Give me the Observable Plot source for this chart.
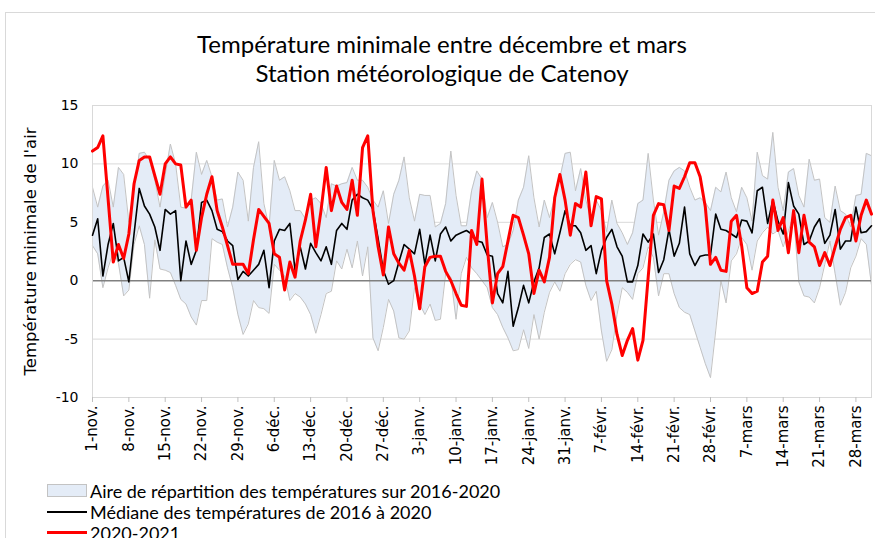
<!DOCTYPE html>
<html><head><meta charset="utf-8">
<script src="https://cdn.jsdelivr.net/npm/d3@7"></script>
<script src="https://cdn.jsdelivr.net/npm/@observablehq/plot@0.6"></script>
<style>
html,body{margin:0;padding:0;background:#fff;overflow:hidden;width:875px;height:538px;}
#frame{position:absolute;left:5px;top:12px;width:900px;height:600px;border:1px solid #d9d9d9;box-sizing:border-box;}
#title{position:absolute;left:0;width:884px;top:29px;text-align:center;font-family:Lato,"Open Sans",sans-serif;font-size:24px;line-height:29px;color:#000;}
#chart{position:absolute;left:0;top:0;}
#legend{position:absolute;left:47px;top:480px;font-family:Lato,"Open Sans",sans-serif;font-size:18px;color:#000;}
.row{height:21px;display:flex;align-items:center;white-space:nowrap;}
.sw{width:40px;margin-right:3px;box-sizing:border-box;}
</style>
</head><body>
<div id="frame"></div>
<div id="title">Température minimale entre décembre et mars<br>Station météorologique de Catenoy</div>
<div id="chart"></div>
<div id="legend"></div>
<script>
// Day index 0 = 1 Nov 2020 ... 150 = 31 Mar 2021
const tickDays = [0,7,14,21,28,35,42,49,56,63,70,77,84,91,98,105,112,119,126,133,140,147];
const tickLabels = ["1-nov.","8-nov.","15-nov.","22-nov.","29-nov.","6-déc.","13-déc.","20-déc.","27-déc.","3-janv.","10-janv.","17-janv.","24-janv.","31-janv.","7-févr.","14-févr.","21-févr.","28-févr.","7-mars","14-mars","21-mars","28-mars"];
const yTicks = [-10,-5,0,5,10,15];

// 2020-2021 minimum temperature
const red2021 = [
 11.1,11.4,12.4,7.0,1.6,3.1,1.9,4.0,8.3,10.3,10.6,10.6,9.0,7.4,10.0,10.6,10.0,9.9,6.3,6.9,2.6,5.4,7.4,8.9,6.0,
 4.6,3.0,1.4,1.4,1.4,0.6,3.5,6.1,5.5,4.9,2.3,2.0,-0.8,1.6,0.3,3.4,5.2,7.4,2.9,6.0,9.7,6.0,8.1,6.7,6.1,
 8.6,5.6,11.4,12.4,6.0,2.9,0.5,4.6,2.3,1.5,0.9,2.6,0.4,-2.4,1.2,2.0,2.1,2.1,0.8,0.0,-1.1,-2.1,-2.2,4.3,3.1,
 8.7,3.0,-1.9,0.6,1.2,3.4,5.6,5.4,3.9,2.3,-1.1,0.9,-0.1,2.0,7.1,9.1,6.9,3.9,6.6,6.3,9.3,4.7,7.2,7.0,0.0,
 -2.0,-4.6,-6.4,-5.1,-4.1,-6.8,-5.1,0.3,5.6,6.6,6.5,4.3,8.1,7.9,8.9,10.1,10.1,8.9,6.3,1.4,2.0,0.9,0.8,5.1,5.6,
 3.0,-0.6,-1.1,-0.9,1.6,2.1,6.9,4.3,5.4,2.4,6.0,2.4,5.6,3.3,2.9,1.3,2.4,1.3,2.9,4.4,5.4,5.6,3.4,5.6,6.9,5.7
];
// Median 2016-2020
const median = [
 3.9,5.3,0.4,3.1,4.9,1.7,2.0,-0.1,4.0,7.9,6.4,5.7,4.6,2.6,6.1,5.7,6.0,0.0,3.4,1.4,2.6,6.7,6.9,6.0,4.4,
 4.2,3.4,3.0,0.1,0.8,0.4,0.9,1.4,2.6,-0.6,3.4,4.4,4.3,4.9,0.9,2.9,1.0,3.2,2.4,1.7,2.9,1.4,4.3,4.9,4.4,
 6.9,7.4,7.1,6.9,6.1,3.6,0.9,-0.3,0.0,1.6,3.1,2.7,2.3,4.4,1.4,3.9,1.7,4.0,4.6,3.4,3.9,4.1,4.3,4.0,3.4,
 3.3,2.2,2.1,-1.1,-1.9,0.8,-3.9,-2.3,-0.4,-1.9,-0.1,1.1,3.7,4.0,2.3,4.1,6.0,4.7,4.7,4.1,2.6,3.0,0.6,2.6,3.7,
 4.4,2.9,2.1,-0.1,-0.1,1.3,4.0,3.3,4.0,0.7,1.8,4.4,2.1,3.2,6.3,2.3,1.3,2.1,2.2,2.2,5.7,4.4,4.3,4.0,3.7,
 5.2,5.1,4.1,7.7,8.0,4.9,6.9,5.1,4.0,8.4,6.4,5.7,3.1,3.4,4.6,5.3,3.2,3.9,6.1,2.7,3.4,3.4,6.3,4.1,4.2,4.7
];
// Range 2016-2020: upper and lower edges
const upper = [
 8.0,6.3,8.1,8.6,6.3,9.7,9.1,5.0,7.9,10.9,11.0,10.3,8.6,6.3,9.1,11.7,10.0,6.3,6.2,6.9,11.0,9.1,10.3,8.9,6.9,
 7.0,4.6,6.3,9.3,8.6,5.1,9.7,11.9,6.6,4.6,10.3,8.6,8.9,7.7,6.0,6.0,5.3,6.9,7.1,6.6,5.4,8.3,8.1,8.3,8.4,
 9.7,8.6,8.6,8.0,6.9,6.3,7.7,4.9,7.4,8.6,10.6,7.1,5.1,7.4,7.3,7.3,4.6,4.9,6.6,11.1,7.3,4.7,4.7,7.7,9.4,
 8.7,5.4,6.7,5.0,2.9,3.1,4.3,6.9,8.0,10.7,7.1,4.6,6.9,5.4,7.1,8.8,10.9,11.0,7.7,9.6,6.9,5.1,6.9,6.0,4.2,
 6.9,4.9,4.1,3.1,4.1,6.6,6.9,10.9,6.9,3.9,5.9,8.6,9.4,9.7,9.4,8.0,6.9,7.1,6.7,6.0,8.0,7.6,9.3,7.1,5.9,
 8.0,7.1,5.1,11.0,9.0,8.7,12.7,8.0,6.0,9.3,9.6,7.3,6.3,10.4,8.6,8.7,5.4,5.0,8.1,6.0,5.7,4.6,7.3,7.4,10.9,10.7
];
const lower = [
 3.0,2.3,-0.6,1.1,2.5,1.5,-1.3,-0.8,3.1,4.7,3.1,-1.5,3.5,1.0,0.9,0.7,-0.4,-1.6,-2.0,-3.1,-3.8,-1.7,-1.7,3.6,3.3,
 3.1,1.1,-0.6,-2.9,-4.6,-3.7,-1.7,-2.3,-2.4,-2.8,1.4,0.9,0.4,-1.7,-1.1,-1.4,-2.0,-2.9,-4.5,-2.9,-1.1,-0.9,1.7,1.0,2.7,
 1.1,3.4,0.4,2.9,-4.9,-6.0,-4.0,-1.6,-2.6,-4.9,-5.0,-4.3,-0.6,-2.0,-2.9,-2.0,-3.4,-3.3,0.6,0.3,-3.3,0.6,2.0,1.1,0.6,
 0.0,-0.6,-2.3,-2.9,-4.0,-4.9,-6.0,-5.9,-4.2,-5.8,-2.9,-5.0,-2.7,-1.0,-0.1,-0.9,0.6,1.4,1.8,1.6,-0.4,-1.7,-0.9,-4.3,-6.9,
 -5.9,-2.9,-0.6,-1.0,-1.6,0.6,1.1,2.9,2.0,-1.3,0.6,0.6,-1.1,-2.3,-2.7,-2.9,-4.3,-5.7,-7.1,-8.3,-4.3,0.0,-1.9,1.7,2.3,
 3.7,3.1,0.9,3.4,4.1,4.6,4.0,4.3,2.9,4.3,5.6,-0.1,-1.3,-1.4,-1.9,-0.6,1.4,3.4,0.6,-2.1,-1.0,1.1,2.1,3.6,3.1,-0.4
];

const legendItems = [
  {label:"Aire de répartition des températures sur 2016-2020", kind:"area"},
  {label:"Médiane des températures de 2016 à 2020", kind:"median"},
  {label:"2020-2021", kind:"red"}
];

const data = red2021.map((v,i)=>({day:i, red:v, med:median[i], lo:lower[i], hi:upper[i]}));

const chart = Plot.plot({
  width: 875, height: 480,
  marginTop: 105, marginLeft: 92, marginRight: 4, marginBottom: 83,
  style: {fontFamily: "DejaVu Sans, Verdana, sans-serif", fontSize: "14px", color: "#000", background: "transparent", overflow: "visible"},
  x: {domain: [0, 150], axis: null},
  y: {domain: [-10, 15], axis: null},
  marks: [
    Plot.gridY(yTicks.filter(d => d !== 0), {stroke: "#d9d9d9", strokeOpacity: 1}),
    Plot.areaY(data, {x: "day", y1: "lo", y2: "hi", fill: "#e4ecf7", curve: "linear"}),
    Plot.line(data, {x: "day", y: "hi", stroke: "#c3c3c3", strokeWidth: 1}),
    Plot.line(data, {x: "day", y: "lo", stroke: "#c3c3c3", strokeWidth: 1}),
    Plot.ruleY([0], {stroke: "#808080", strokeWidth: 1.5}),
    Plot.frame({stroke: "#d9d9d9"}),
    Plot.axisY({ticks: yTicks, tickSize: 0, tickPadding: 14, tickFormat: d => String(d), fontSize: 14, label: null}),
    Plot.axisX({ticks: tickDays, tickFormat: d => tickLabels[tickDays.indexOf(d)], tickRotate: -90, tickSize: 5, tickPadding: 3, stroke: "#bfbfbf", fill: "#000", fontSize: 15, label: null}),
    Plot.text(["Température minimale de l'air"], {frameAnchor: "left", dx: -62, rotate: -90, textAnchor: "middle", fontSize: 16.5, fill: "#000"}),
    Plot.line(data, {x: "day", y: "med", stroke: "#000", strokeWidth: 1.6}),
    Plot.line(data, {x: "day", y: "red", stroke: "#ff0000", strokeWidth: 3})
  ]
});
document.getElementById("chart").appendChild(chart);

const lg = document.getElementById("legend");
legendItems.forEach(it => {
  const row = document.createElement("div");
  row.className = "row";
  const sw = document.createElement("div");
  sw.className = "sw";
  if (it.kind === "area") { sw.style.height = "13px"; sw.style.background = "#e4ecf7"; sw.style.border = "1px solid #c3c3c3"; }
  else if (it.kind === "median") { sw.style.height = "2px"; sw.style.background = "#000"; }
  else { sw.style.height = "3px"; sw.style.background = "#ff0000"; }
  row.appendChild(sw);
  const t = document.createElement("span");
  t.textContent = it.label;
  row.appendChild(t);
  lg.appendChild(row);
});
</script>
</body></html>
